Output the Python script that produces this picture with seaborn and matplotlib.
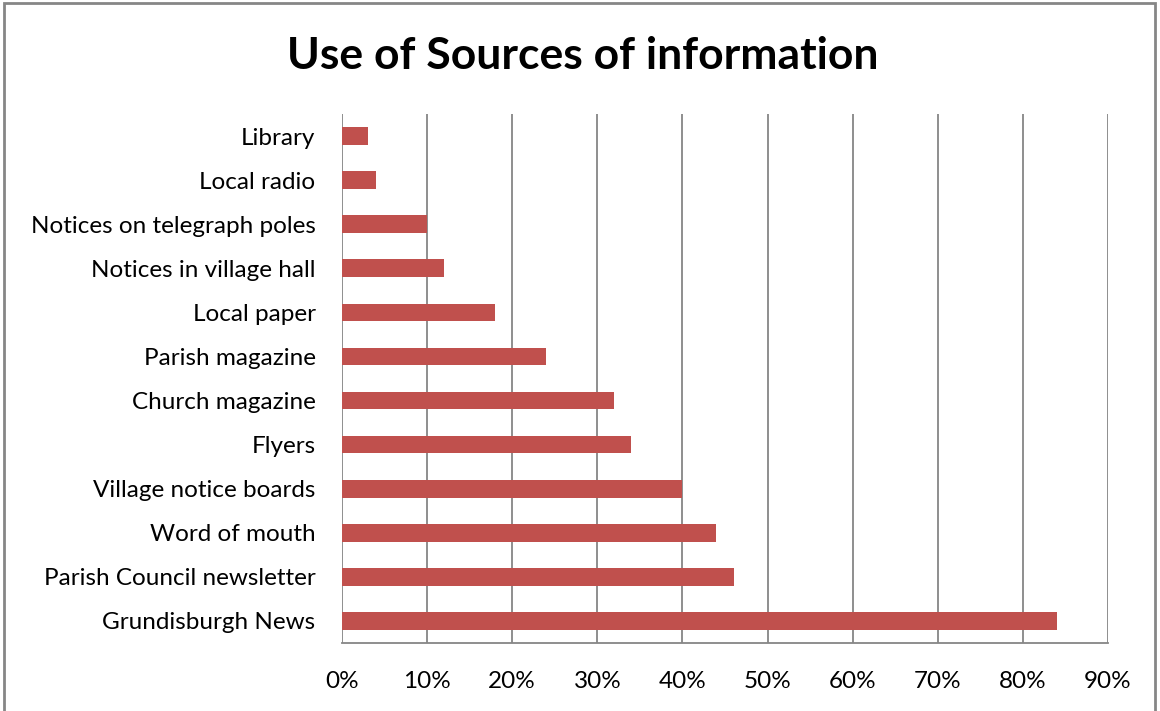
import matplotlib
matplotlib.use("Agg")
import matplotlib.pyplot as plt
from matplotlib.patches import Rectangle
import seaborn as sns
import pandas as pd

sources = [
    "Library",
    "Local radio",
    "Notices on telegraph poles",
    "Notices in village hall",
    "Local paper",
    "Parish magazine",
    "Church magazine",
    "Flyers",
    "Village notice boards",
    "Word of mouth",
    "Parish Council newsletter",
    "Grundisburgh News",
]
percent_used = [3, 4, 10, 12, 18, 24, 32, 34, 40, 44, 46, 84]
x_ticks = [0, 10, 20, 30, 40, 50, 60, 70, 80, 90]
x_tick_labels = [f"{t}%" for t in x_ticks]

sns.set_theme(style="white")
plt.rcParams["font.family"] = ["Lato", "DejaVu Sans"]

df = pd.DataFrame({"source": sources, "pct": percent_used})

fig = plt.figure(figsize=(11.6, 7.11), dpi=100)
ax = fig.add_axes([342 / 1160, 1 - 643 / 711, (1108 - 342) / 1160, (643 - 114) / 711])

sns.barplot(data=df, x="pct", y="source", order=sources, color="#C0504D",
            saturation=1, width=0.4, orient="h", ax=ax, zorder=3,
            linewidth=0, edgecolor="none")

grid_col = "#868686"
ax.set_xlim(0, 90)
ax.set_ylim(len(sources) - 0.5, -0.5)
ax.set_xticks(x_ticks)
ax.set_xticklabels(x_tick_labels)
for t in x_ticks:
    ax.axvline(t, color=grid_col, lw=1.3, zorder=1)

for side in ["top", "right", "left"]:
    ax.spines[side].set_visible(False)
ax.spines["bottom"].set_color(grid_col)
ax.spines["bottom"].set_linewidth(1.3)

ax.tick_params(axis="y", length=0, labelsize=17.5, colors="black", pad=19)
ax.tick_params(axis="x", length=0, labelsize=17.5, colors="black", pad=20)
ax.set_xlabel("")
ax.set_ylabel("")

fig.text(583 / 1160, 1 - 56 / 711, "Use of Sources of information",
         ha="center", va="center", fontsize=32, fontweight="bold", color="black")

# outer chart border
fig.patches.append(Rectangle((4 / 1160, -0.05), (1155 - 4) / 1160, 1.05 - 3 / 711,
                             transform=fig.transFigure, fill=False,
                             edgecolor="#868686", linewidth=2))

fig.savefig("out.png", dpi=100)
